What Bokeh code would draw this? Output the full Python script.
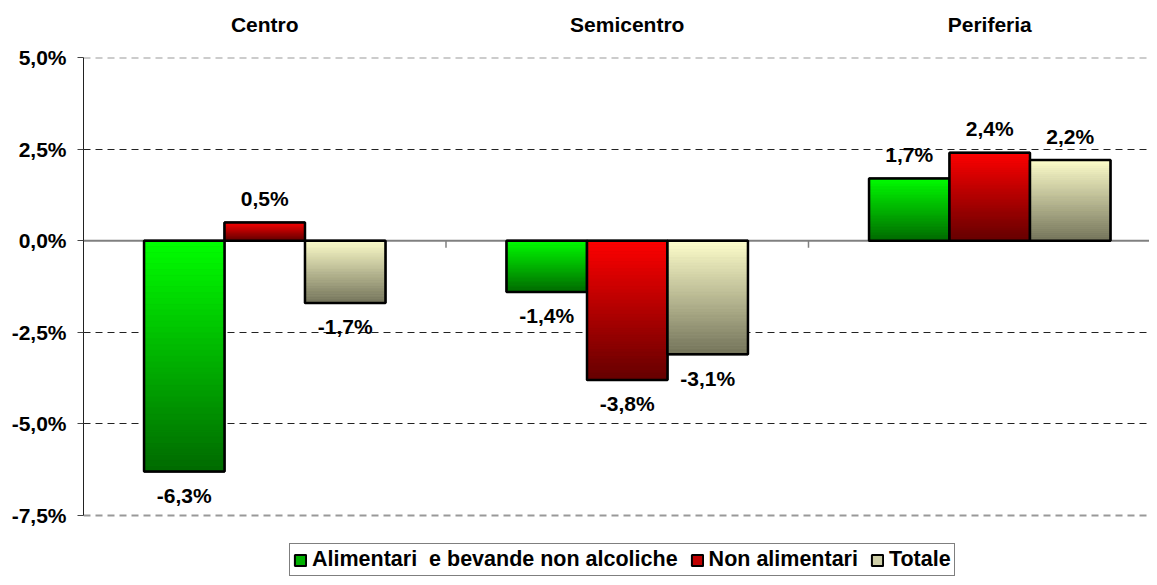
import numpy as np
from bokeh.plotting import figure
from bokeh.models import (ColumnDataSource, FixedTicker, Span, Legend, LegendItem,
                          LinearAxis, Range1d)
from bokeh.embed import file_html
from bokeh.resources import INLINE
from bokeh.core.properties import value

# ---- data ----
categories = ["Centro", "Semicentro", "Periferia"]
series_names = ["Alimentari  e bevande non alcoliche", "Non alimentari", "Totale"]
alimentari = [-6.3, -1.4, 1.7]
non_alimentari = [0.5, -3.8, 2.4]
totale = [-1.7, -3.1, 2.2]
y_ticks = [-7.5, -5.0, -2.5, 0.0, 2.5, 5.0]
y_tick_labels = ["-7,5%", "-5,0%", "-2,5%", "0,0%", "2,5%", "5,0%"]

# ---- styles ----
grad_top = [(0, 255, 0), (255, 0, 0), (255, 255, 204)]
grad_bottom = [(0, 105, 0), (100, 0, 0), (115, 115, 90)]
legend_colors = ["#00b000", "#c00000", "#cfcfa8"]
FONT = "Liberation Sans"
FS = "21px"
bar_w = 0.222
n_slices = 40

series_values = [alimentari, non_alimentari, totale]

# frame extends below the axis range to host the legend (axis bounded to data range)
p = figure(width=1149, height=577,
           x_range=Range1d(-0.5, 2.4407), y_range=Range1d(-9.192, 5.0),
           output_backend="svg", toolbar_location=None,
           x_axis_location=None,
           min_border_left=83, min_border_right=0,
           min_border_top=57, min_border_bottom=0)
p.outline_line_color = None
p.background_fill_color = "white"

# y axis
p.yaxis.bounds = (y_ticks[0], y_ticks[-1])
p.yaxis.ticker = FixedTicker(ticks=y_ticks)
p.yaxis.major_label_overrides = {t: l for t, l in zip(y_ticks, y_tick_labels)}
p.yaxis.major_label_text_font = FONT
p.yaxis.major_label_text_font_style = "bold"
p.yaxis.major_label_text_font_size = FS
p.yaxis.major_label_text_color = "black"
p.yaxis.major_tick_in = 0
p.yaxis.major_tick_out = 6
p.yaxis.minor_tick_line_color = None
p.yaxis.axis_line_color = "#222222"
p.yaxis.major_tick_line_color = "#444444"
p.yaxis.major_label_standoff = 11

# grid
p.xgrid.visible = False
p.ygrid.ticker = FixedTicker(ticks=[-5.0, -2.5, 2.5])
p.ygrid.grid_line_color = "#222222"
p.ygrid.grid_line_dash = "7 5"
p.ygrid.grid_line_width = 1

for loc in (y_ticks[0], y_ticks[-1]):
    p.add_layout(Span(location=loc, dimension="width", line_color="#999999",
                      line_width=2, line_dash="7 5", level="underlay"))

p.add_layout(Span(location=0, dimension="width", line_color="#808080",
                  line_width=2, level="underlay"))

# category labels on top
top_axis = LinearAxis(ticker=FixedTicker(ticks=list(range(len(categories)))),
                      major_label_overrides={i: c for i, c in enumerate(categories)},
                      axis_line_color=None, major_tick_line_color=None,
                      minor_tick_line_color=None, major_tick_in=0, major_tick_out=0,
                      major_label_standoff=22,
                      major_label_text_font=FONT, major_label_text_font_style="bold",
                      major_label_text_font_size=FS, major_label_text_color="black")
p.add_layout(top_axis, "above")

# category separator ticks on zero line
sep_x = [i + 0.5 for i in range(len(categories) - 1)]
p.ray(x=sep_x, y=[0] * len(sep_x), length=7, length_units="screen",
      angle=-np.pi / 2, line_color="#808080", line_width=1.5)

legend_items = []
lab_x, lab_y, lab_t, lab_off = [], [], [], []
for s, vals in enumerate(series_values):
    xs = [i + (s - 1) * bar_w for i in range(len(categories))]
    bottoms = [min(0, v) for v in vals]
    tops = [max(0, v) for v in vals]
    # base (used for legend)
    base = p.quad(left=[x - bar_w / 2 for x in xs], right=[x + bar_w / 2 for x in xs],
                  bottom=bottoms, top=tops, fill_color=legend_colors[s],
                  line_color="black", line_width=2)
    legend_items.append(LegendItem(label=series_names[s], renderers=[base]))
    # gradient slices
    L, R, B, T, C = [], [], [], [], []
    for x, b, t in zip(xs, bottoms, tops):
        edges = np.linspace(t, b, n_slices + 1)
        for k in range(n_slices):
            f = (k + 0.5) / n_slices
            c = tuple(int(round(grad_top[s][j] * (1 - f) + grad_bottom[s][j] * f)) for j in range(3))
            L.append(x - bar_w / 2); R.append(x + bar_w / 2)
            T.append(edges[k]); B.append(edges[k + 1])
            C.append("#%02x%02x%02x" % c)
    p.quad(left=L, right=R, bottom=B, top=T, fill_color=C, line_color=C, line_width=0.6)
    # outline
    p.quad(left=[x - bar_w / 2 for x in xs], right=[x + bar_w / 2 for x in xs],
           bottom=bottoms, top=tops, fill_color=None, line_color="black", line_width=2.5)
    for x, v in zip(xs, vals):
        lab_x.append(x); lab_y.append(v)
        lab_t.append(("%.1f" % v).replace(".", ",") + "%")
        lab_off.append(-24 if v >= 0 else 24)

src = ColumnDataSource(dict(x=lab_x, y=lab_y, t=lab_t, off=lab_off))
p.text(x="x", y="y", text="t", y_offset="off", source=src,
       text_align="center", text_baseline="middle",
       text_font=value(FONT), text_font_style="bold", text_font_size=FS,
       text_color="black")

legend = Legend(items=legend_items, orientation="horizontal", location=(206, 1),
                border_line_color="black", border_line_width=1,
                label_text_font=FONT, label_text_font_style="bold",
                label_text_font_size="21.5px", label_text_color="black",
                glyph_width=14, glyph_height=14, label_standoff=5, spacing=12,
                padding=3, margin=0, label_height=16,
                background_fill_color="white", background_fill_alpha=1)
p.add_layout(legend, "center")

open("out.html", "w").write(file_html(p, INLINE))
